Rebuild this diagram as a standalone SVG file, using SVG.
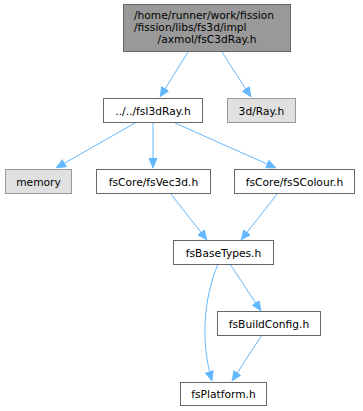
<svg xmlns="http://www.w3.org/2000/svg" width="363" height="411" viewBox="0 0 363 411">
<style>
.n rect{fill:#ffffff;stroke:#666666;stroke-width:1}
.n.ext rect{fill:#e0e0e0;stroke:#999999}
.n.top rect{fill:#999999;stroke:#666666}
text{font-family:"DejaVu Sans",sans-serif;font-size:10.67px;fill:#000000}
.m{text-anchor:middle}
.e path{fill:none;stroke:#63b8ff;stroke-width:1;marker-end:url(#ah)}
</style>
<defs>
<marker id="ah" markerWidth="10" markerHeight="9" refX="10" refY="4.5" orient="auto" markerUnits="userSpaceOnUse">
<path d="M0.5,0.5 L9.5,4.5 L0.5,8.5 z" fill="#63b8ff" stroke="#63b8ff"/>
</marker>
</defs>
<g id="edges" class="e">
<path d="M188,52 L160,97"/>
<path d="M222,52 L251,97"/>
<path d="M135,123 L56,168"/>
<path d="M153,123 L153,168"/>
<path d="M175,123 L276,168"/>
<path d="M170,193 L207,240"/>
<path d="M278,193 L241,240"/>
<path d="M230,264 L261,311"/>
<path d="M218,264 C204,298 200,340 212,381"/>
<path d="M262,335 L232,381"/>
</g>
<g id="n_top" class="n top">
<rect x="123.5" y="4.5" width="167" height="47"/>
<text x="134" y="19">/home/runner/work/fission</text>
<text x="134" y="31">/fission/libs/fs3d/impl</text>
<text x="207" y="43" class="m">/axmol/fsC3dRay.h</text>
</g>
<g id="n_fsI3dRay" class="n">
<rect x="103.5" y="98.5" width="99" height="24"/>
<text x="153" y="114.5" class="m">../../fsI3dRay.h</text>
</g>
<g id="n_Ray" class="n ext">
<rect x="227.5" y="98.5" width="68" height="24"/>
<text x="261.5" y="114.5" class="m">3d/Ray.h</text>
</g>
<g id="n_memory" class="n ext">
<rect x="5.5" y="169.5" width="66" height="24"/>
<text x="38.5" y="185.5" class="m">memory</text>
</g>
<g id="n_Vec3d" class="n">
<rect x="96.5" y="169.5" width="114" height="24"/>
<text x="153.5" y="185.5" class="m">fsCore/fsVec3d.h</text>
</g>
<g id="n_SColour" class="n">
<rect x="234.5" y="169.5" width="120" height="24"/>
<text x="294.5" y="185.5" class="m">fsCore/fsSColour.h</text>
</g>
<g id="n_BaseTypes" class="n">
<rect x="173.5" y="240.5" width="100" height="24"/>
<text x="223.5" y="256.5" class="m">fsBaseTypes.h</text>
</g>
<g id="n_BuildConfig" class="n">
<rect x="217.5" y="311.5" width="103" height="24"/>
<text x="269" y="327.5" class="m">fsBuildConfig.h</text>
</g>
<g id="n_Platform" class="n">
<rect x="180.5" y="382.5" width="86" height="23"/>
<text x="223.5" y="398" class="m">fsPlatform.h</text>
</g>
</svg>
